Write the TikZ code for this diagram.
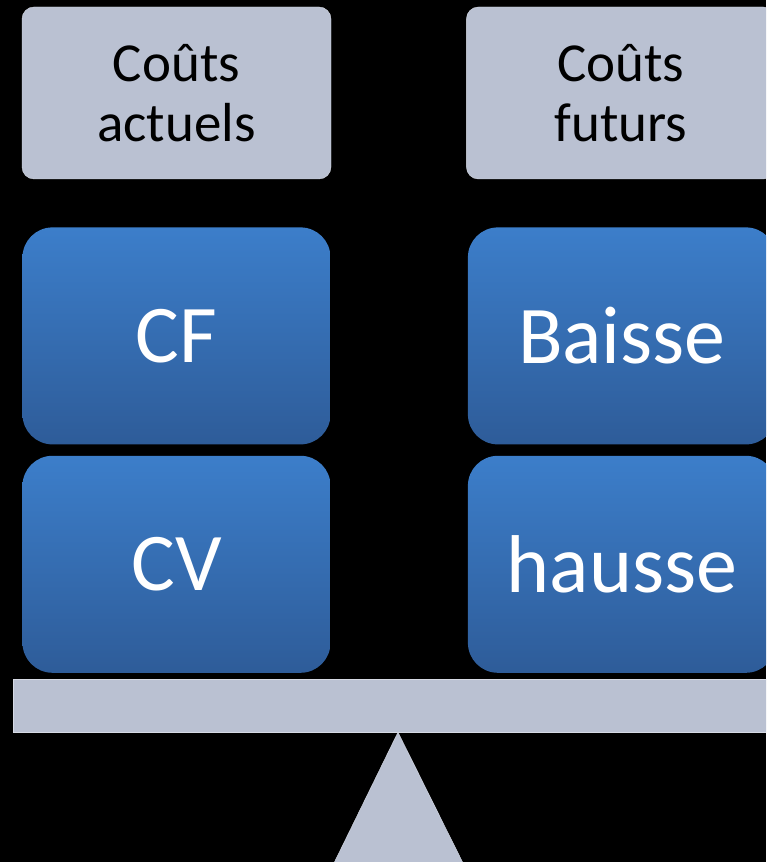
\documentclass[tikz,border=0pt]{standalone}
\usepackage{fontspec}
\setmainfont{Carlito}
\usetikzlibrary{positioning}
\definecolor{panelgray}{RGB}{186,193,210}
\definecolor{bluetop}{RGB}{60,126,202}
\definecolor{bluebot}{RGB}{46,92,153}

\begin{document}
\begin{tikzpicture}[x=1pt, y=1pt, node distance=48pt and 135pt]
\tikzstyle{head} = [rectangle, draw=panelgray!60!white, fill=panelgray, rounded corners=12pt, minimum width=309pt, minimum height=172pt, align=center, font=\fontsize{55}{60}\selectfont, text=black]
\tikzstyle{block} = [rectangle, top color=bluetop, bottom color=bluebot, rounded corners=30pt, minimum width=308pt, minimum height=217pt, font=\fontsize{82}{96}\selectfont, text=white]
\tikzstyle{beam} = [rectangle, draw=panelgray!60!white, fill=panelgray, minimum width=770pt, minimum height=53pt]

\useasboundingbox (0,0) rectangle (766,862);
\clip (0,0) rectangle (766,862);
\fill[black] (0,0) rectangle (766,862);

\node[head] (actuels) at (176.5,769) {Coûts\\actuels};
\node[head, right=of actuels] (futurs) {Coûts\\futurs};
\node[block, below=of actuels] (cf) {CF};
\node[block, below=11pt of cf] (cv) {CV};
\node[block, right=137pt of cf] (baisse) {Baisse};
\node[block, right=137pt of cv] (hausse) {hausse};

% balance
\node[beam] (bar) at (398,156.5) {};
\fill[panelgray, draw=panelgray!60!white] (bar.south) -- (463,-1) -- (334,-1) -- cycle;
\end{tikzpicture}
\end{document}
